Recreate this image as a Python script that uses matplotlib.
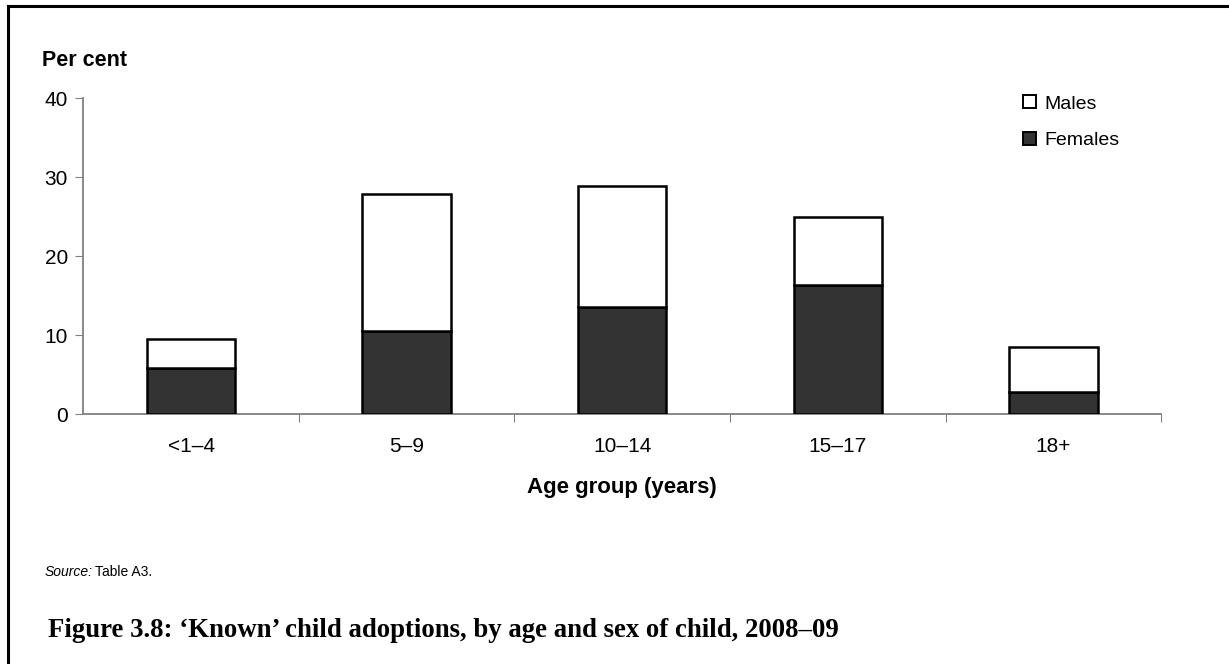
import matplotlib
matplotlib.use('Agg')
import matplotlib.pyplot as plt
from matplotlib.lines import Line2D
from matplotlib.patches import Patch

# datos
grupos = ['<1–4', '5–9', '10–14', '15–17', '18+']
mujeres = [5.8, 10.5, 13.6, 16.3, 2.8]
hombres = [3.7, 17.4, 15.3, 8.6, 5.7]
y_ticks = [0, 10, 20, 30, 40]

plt.rcParams['font.family'] = ['Liberation Sans', 'DejaVu Sans']

fig = plt.figure(figsize=(12.29, 6.64), dpi=100)
ax = fig.add_axes([0.0678, 0.3765, 0.877, 0.4759])

x = range(len(grupos))
ax.bar(x, mujeres, width=0.41, color='#333333', edgecolor='black', linewidth=1.8,
       label='Females', zorder=3)
ax.bar(x, hombres, width=0.41, bottom=mujeres, color='white', edgecolor='black',
       linewidth=1.8, label='Males', zorder=3)

ax.set_xlim(-0.5, len(grupos) - 0.5)
ax.set_ylim(0, 40)
ax.set_yticks(y_ticks)
ax.tick_params(axis='y', labelsize=15, length=6, color='#808080', pad=5)

# ticks del eje x entre categorias, etiquetas centradas
ax.set_xticks([i + 0.5 for i in x])
ax.set_xticklabels([])
ax.set_xticks(list(x), minor=True)
ax.set_xticklabels(grupos, minor=True, fontsize=15)
ax.tick_params(axis='x', which='major', length=6, color='#808080')
ax.tick_params(axis='x', which='minor', length=0, pad=16.5)

for s in ['top', 'right']:
    ax.spines[s].set_visible(False)
for s in ['left', 'bottom']:
    ax.spines[s].set_color('#808080')
    ax.spines[s].set_linewidth(1.3)

ax.set_xlabel('Age group (years)', fontsize=16, fontweight='bold', labelpad=15)
fig.text(0.034, 0.909, 'Per cent', fontsize=15.5, fontweight='bold', va='center')

# leyenda con cuadros pequenos
handles = [Patch(facecolor='white', edgecolor='black', linewidth=1.4),
           Patch(facecolor='#333333', edgecolor='black', linewidth=1.4)]
fig.legend(handles, ['Males', 'Females'], loc='upper left', bbox_to_anchor=(0.8185, 0.883),
           frameon=False, fontsize=14, handlelength=0.65, handleheight=0.65,
           handletextpad=0.45, labelspacing=1.0)

# texto de fuente y titulo de figura
fig.text(0.036, 0.139, 'Source:', fontsize=10, style='italic', va='center')
fig.text(0.077, 0.139, 'Table A3.', fontsize=10, va='center')
fig.text(0.039, 0.05, 'Figure 3.8: ‘Known’ child adoptions, by age and sex of child, 2008–09',
         fontsize=19.3, fontweight='bold', family=['Liberation Serif', 'DejaVu Serif'],
         va='center')

# marco del recuadro (izquierda y arriba)
fig.add_artist(Line2D([0.0065, 0.0065], [0, 0.991], transform=fig.transFigure,
                      color='black', linewidth=2.2))
fig.add_artist(Line2D([0.0065, 1], [0.991, 0.991], transform=fig.transFigure,
                      color='black', linewidth=2.2))

plt.savefig('out.png', dpi=100)
